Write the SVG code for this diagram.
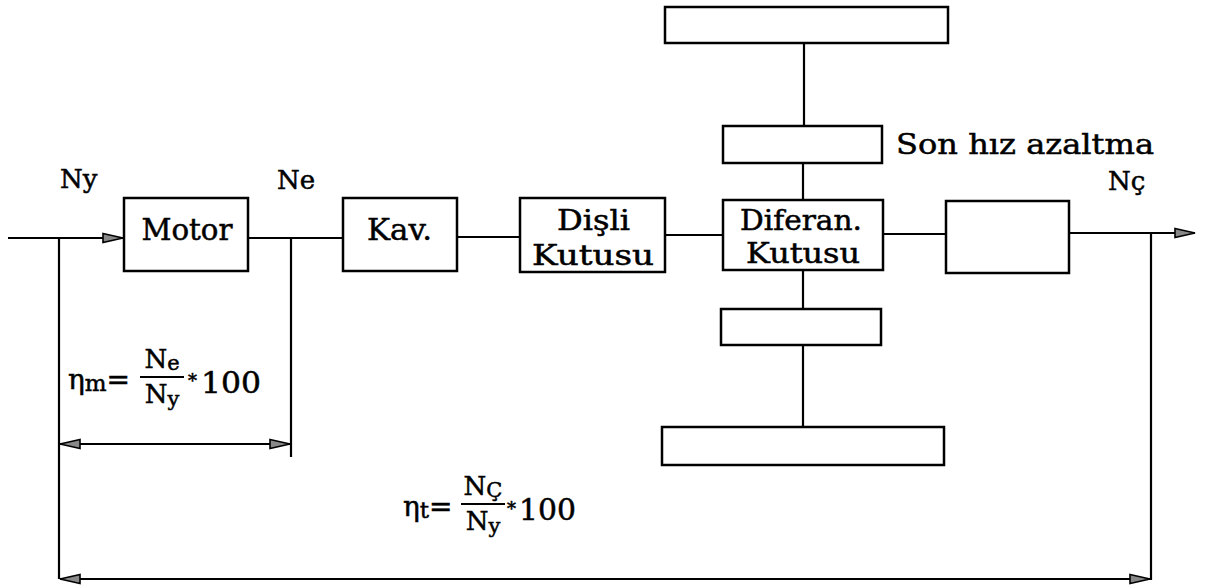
<svg xmlns="http://www.w3.org/2000/svg" width="1205" height="588" viewBox="0 0 1205 588">
<style>
.box{fill:none;stroke:#000;stroke-width:2.5}
.ln{fill:none;stroke:#000;stroke-width:2.2}
.t{font-family:"DejaVu Serif","Liberation Serif",serif;fill:#000;stroke:#000;stroke-width:0.5}
.big{font-size:29px}
.mid{font-size:27px}
.lab{font-size:26px}
</style>
<defs>
<marker id="ah" markerUnits="userSpaceOnUse" markerWidth="24" markerHeight="14" refX="21" refY="6" orient="auto-start-reverse" viewBox="0 0 24 12">
<path d="M1,1.5 L21,6 L1,10.5 Z" fill="#888" stroke="#000" stroke-width="1.6"/>
</marker>
</defs>
<rect width="1205" height="588" fill="#fff"/>
<g id="connectors">
<path class="ln" d="M8,238 H123" marker-end="url(#ah)"/>
<path class="ln" d="M248,238 H343"/>
<path class="ln" d="M457,237 H520"/>
<path class="ln" d="M665,235 H723"/>
<path class="ln" d="M883,234 H946"/>
<path class="ln" d="M1069,233 H1195" marker-end="url(#ah)"/>
<path class="ln" d="M59,238 V579"/>
<path class="ln" d="M291,238 V457"/>
<path class="ln" d="M1151,233 V580"/>
<path class="ln" d="M60,444 H290" marker-start="url(#ah)" marker-end="url(#ah)"/>
<path class="ln" d="M60,579 H1150" marker-start="url(#ah)" marker-end="url(#ah)"/>
<path class="ln" d="M804,43 V126"/>
<path class="ln" d="M803,163 V200"/>
<path class="ln" d="M803,270 V309"/>
<path class="ln" d="M803,345 V427"/>
</g>
<g id="motor"><rect class="box" x="124" y="198" width="124" height="73"/><text class="t big" x="187" y="240" text-anchor="middle" textLength="91" lengthAdjust="spacingAndGlyphs">Motor</text></g>
<g id="kav"><rect class="box" x="343" y="198" width="114" height="73"/><text class="t big" x="367" y="240" textLength="65" lengthAdjust="spacingAndGlyphs">Kav.</text></g>
<g id="disli"><rect class="box" x="520" y="198" width="145" height="74"/><text class="t mid" x="557" y="230" textLength="73" lengthAdjust="spacingAndGlyphs">Dişli</text><text class="t mid" x="532" y="265" textLength="122" lengthAdjust="spacingAndGlyphs">Kutusu</text></g>
<g id="diferan"><rect class="box" x="723" y="200" width="160" height="70"/><text class="t mid" x="740" y="230" textLength="122" lengthAdjust="spacingAndGlyphs">Diferan.</text><text class="t mid" x="746" y="263" textLength="114" lengthAdjust="spacingAndGlyphs">Kutusu</text></g>
<g id="box-right"><rect class="box" x="946" y="201" width="123" height="72"/></g>
<g id="box-top"><rect class="box" x="665" y="7" width="283" height="36"/></g>
<g id="son-hiz"><rect class="box" x="723" y="126" width="159" height="37"/><text class="t" x="896" y="154" font-size="28" textLength="258" lengthAdjust="spacingAndGlyphs">Son hız azaltma</text></g>
<g id="box-lower"><rect class="box" x="721" y="309" width="160" height="36"/></g>
<g id="box-bottom"><rect class="box" x="662" y="427" width="282" height="38"/></g>
<g id="labels">
<text class="t lab" x="60" y="188">Ny</text>
<text class="t lab" x="277" y="189">Ne</text>
<text class="t lab" x="1108" y="190">Nç</text>
</g>
<g id="formula-m">
<text class="t" x="68" y="389" font-size="28">η<tspan font-size="23" dy="2">m</tspan><tspan dy="-2">=</tspan></text>
<text class="t" x="162" y="368" font-size="26" text-anchor="middle">N<tspan font-size="21" dy="2">e</tspan></text>
<line class="ln" x1="140" y1="377" x2="184" y2="377" stroke-width="1.8"/>
<text class="t" x="162" y="403" font-size="26" text-anchor="middle">N<tspan font-size="21" dy="3">y</tspan></text>
<text class="t" x="188" y="387" font-size="18">*</text>
<text class="t" x="201" y="393" font-size="29" textLength="60" lengthAdjust="spacingAndGlyphs">100</text>
</g>
<g id="formula-t">
<text class="t" x="403" y="516" font-size="28">η<tspan font-size="23" dy="2">t</tspan><tspan dy="-2">=</tspan></text>
<text class="t" x="483" y="495" font-size="26" text-anchor="middle">N<tspan font-size="21" dy="2">Ç</tspan></text>
<line class="ln" x1="461" y1="504" x2="505" y2="504" stroke-width="1.8"/>
<text class="t" x="483" y="530" font-size="26" text-anchor="middle">N<tspan font-size="21" dy="3">y</tspan></text>
<text class="t" x="507" y="515" font-size="18">*</text>
<text class="t" x="519" y="520" font-size="29" textLength="57" lengthAdjust="spacingAndGlyphs">100</text>
</g>
</svg>
